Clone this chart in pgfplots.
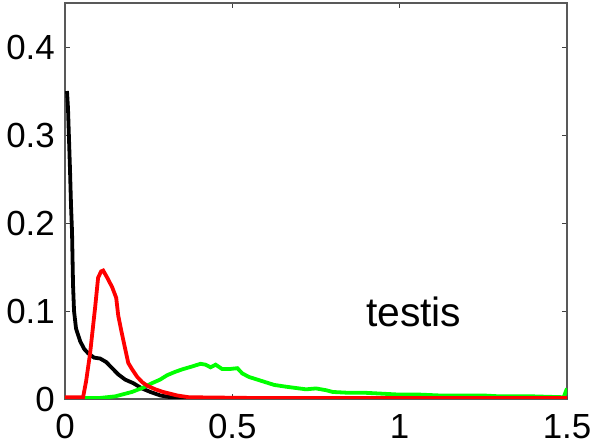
\documentclass[border=0pt]{standalone}
\usepackage{fontspec}
\setmainfont{Liberation Sans}
\usepackage{pgfplots}
\pgfplotsset{compat=1.18}
\begin{document}
\begin{tikzpicture}
\begin{axis}[
  at={(0,0)}, anchor=south west,
  scale only axis,
  width=502bp, height=396bp,
  xmin=0, xmax=1.5, ymin=0, ymax=0.45,
  xtick={0,0.5,1,1.5}, xticklabels={0,0.5,1,1.5},
  ytick={0,0.1,0.2,0.3,0.4}, yticklabels={0,0.1,0.2,0.3,0.4},
  tick align=inside,
  major tick length=5bp,
  tick style={black!75, line width=0.8bp},
  axis line style={black!65, line width=1.2bp},
  tick label style={font=\fontsize{35}{40}\selectfont, inner sep=0pt},
  xticklabel style={yshift=-15bp},
  yticklabel style={xshift=-10bp},
  /pgf/number format/assume math mode=true,
  clip=true,
]
% black
\addplot[black, line width=3.8bp] coordinates {
(0.006,0.350)(0.009,0.330)(0.015,0.260)(0.018,0.220)(0.021,0.190)(0.024,0.130)
(0.027,0.100)(0.033,0.080)(0.045,0.066)(0.057,0.057)(0.069,0.052)(0.087,0.047)
(0.105,0.046)(0.123,0.042)(0.141,0.035)(0.159,0.028)(0.180,0.022)(0.204,0.018)
(0.230,0.012)(0.255,0.008)(0.285,0.004)(0.315,0.002)(0.360,0.000)(1.500,0.000)
};
% green
\addplot[color={rgb,255:red,0;green,255;blue,0}, line width=3.8bp] coordinates {
(0.000,0.001)(0.100,0.001)(0.150,0.003)(0.200,0.008)(0.234,0.013)(0.260,0.018)
(0.284,0.022)(0.305,0.027)(0.330,0.031)(0.353,0.034)(0.380,0.037)(0.405,0.040)
(0.420,0.039)(0.435,0.036)(0.450,0.039)(0.470,0.034)(0.490,0.034)(0.515,0.035)
(0.530,0.029)(0.550,0.025)(0.575,0.022)(0.600,0.019)(0.625,0.016)(0.660,0.014)
(0.700,0.012)(0.720,0.011)(0.750,0.012)(0.780,0.010)(0.800,0.008)(0.850,0.007)
(0.900,0.007)(0.950,0.006)(1.000,0.005)(1.060,0.005)(1.120,0.004)(1.170,0.004)
(1.250,0.004)(1.300,0.003)(1.400,0.003)(1.490,0.002)(1.500,0.012)
};
% red
\addplot[color={rgb,255:red,255;green,0;blue,0}, line width=3.8bp] coordinates {
(0.000,0.002)(0.054,0.002)(0.063,0.020)(0.075,0.052)(0.090,0.104)(0.099,0.138)
(0.108,0.145)(0.114,0.146)(0.126,0.138)(0.141,0.127)(0.153,0.115)(0.159,0.095)
(0.168,0.078)(0.177,0.062)(0.189,0.041)(0.200,0.034)(0.216,0.025)(0.231,0.019)
(0.246,0.015)(0.270,0.011)(0.293,0.008)(0.335,0.004)(0.370,0.002)(0.600,0.001)
(1.000,0.001)(1.500,0.001)
};
\node[font=\fontsize{41}{46}\selectfont] at (axis cs:1.042,0.099) {testis};
\end{axis}
\pgfresetboundingbox
\useasboundingbox (-65bp,-45bp) rectangle (528bp,399bp);
\end{tikzpicture}
\end{document}
